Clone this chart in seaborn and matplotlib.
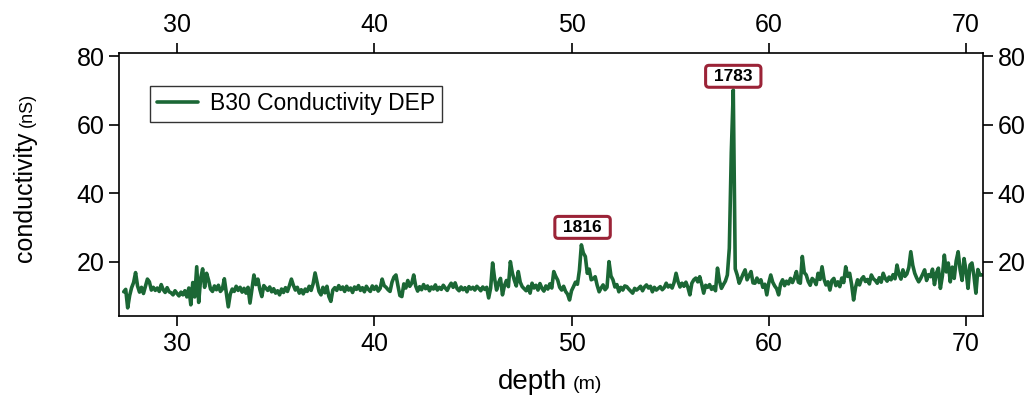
import numpy as np
import pandas as pd
import matplotlib
matplotlib.use("Agg")
import matplotlib.pyplot as plt
import seaborn as sns

# ---------------- data ----------------
depth_start = 27.3   # m
depth_step = 0.1     # m
conductivity = [
    11.3, 12.0, 6.6, 10.2, 12.5, 14.0, 16.9,
    13.0, 11.2, 12.6, 10.8, 12.9, 15.0, 14.2, 11.8, 12.6, 11.7,
    12.4, 11.4, 13.4, 11.9, 11.1, 12.5, 11.3, 11.0, 10.4, 11.6,
    10.8, 10.1, 11.2, 10.4, 11.6, 9.8, 12.4, 7.5, 14.0, 9.8,
    18.6, 8.2, 15.2, 18.0, 12.6, 16.7, 14.7, 12.1, 11.4, 13.0,
    11.9, 13.2, 11.4, 12.1, 15.1, 11.0, 6.9, 10.6, 12.1, 11.4,
    12.9, 11.7, 12.6, 11.2, 12.3, 10.9, 12.6, 8.0, 12.2, 16.2,
    13.4, 15.0, 12.0, 9.9, 13.1, 12.4, 11.7, 12.7, 11.3, 12.2,
    10.9, 11.6, 10.4, 12.1, 11.1, 12.5, 11.4, 13.1, 15.0, 13.2,
    11.8, 12.6, 10.9, 11.9, 10.7, 12.1, 11.4, 12.9, 11.7, 13.6,
    16.8, 14.1, 11.4, 10.4, 12.6, 11.0, 12.9, 9.9, 8.5, 11.8,
    12.5, 11.7, 13.1, 12.0, 12.7, 11.4, 12.9, 11.8, 12.4, 11.1,
    12.7, 12.0, 13.1, 11.7, 12.5, 11.3, 12.9, 12.0, 11.4, 13.0,
    12.0, 12.9, 11.5, 12.3, 15.0, 13.1, 12.6, 11.9, 11.4, 14.1,
    15.6, 16.2, 13.1, 10.2, 9.9, 13.6, 12.4, 14.6, 12.9, 13.8,
    16.2, 13.0, 11.5, 12.8, 11.9, 13.4, 12.2, 13.0, 11.6, 12.7,
    12.1, 13.3, 11.8, 12.6, 12.0, 13.2, 12.4, 11.7, 12.9, 13.8,
    12.6, 13.9, 12.2, 11.6, 12.7, 11.9, 12.5, 11.3, 12.8, 12.1,
    12.6, 11.8, 12.9, 12.3, 11.6, 12.7, 12.0, 12.6, 9.5, 12.4,
    19.7, 15.2, 11.8, 13.9, 15.2, 10.4, 13.1, 14.6, 12.8, 20.1,
    16.8, 14.7, 13.0, 17.2, 14.1, 12.8, 12.2, 11.6, 12.9, 10.9,
    13.8, 12.4, 13.2, 11.8, 13.7, 12.3, 11.5, 13.0, 12.1, 13.6,
    12.4, 17.2, 15.8, 14.7, 12.6, 11.8, 12.9, 11.4, 10.6, 8.9,
    11.6, 12.8, 14.1, 13.5, 17.6, 25.0, 22.6, 21.6, 16.7, 17.9,
    14.8, 15.1, 15.7, 13.2, 11.3, 12.4, 13.3, 11.9, 12.6, 20.1,
    15.9, 14.8, 12.7, 13.4, 11.3, 12.6, 11.8, 13.0, 12.8, 12.1,
    11.5, 10.9, 12.3, 11.8, 12.3, 12.9, 11.6, 12.7, 13.3, 12.4,
    12.9, 11.3, 12.6, 11.8, 12.3, 12.8, 11.9, 12.5, 13.8, 12.7,
    13.2, 12.4, 14.0, 16.7, 14.3, 12.7, 13.8, 12.9, 14.1, 12.6,
    10.4, 13.8, 14.8, 15.3, 14.2, 15.7, 13.5, 10.9, 13.2, 12.6,
    13.4, 12.0, 12.8, 11.6, 18.2, 14.5, 12.3, 13.4, 14.4, 16.2,
    24.0, 52.0, 70.2, 18.0, 16.2, 13.8, 15.1, 16.5, 17.7, 14.8,
    16.0, 17.2, 13.9, 13.8, 15.3, 14.0, 14.8, 12.6, 13.5, 10.4,
    13.9, 16.2, 14.1, 13.0, 12.2, 10.4, 13.6, 14.8, 13.1, 14.4,
    13.6, 15.2, 14.0, 15.3, 17.2, 14.1, 13.8, 21.6, 16.9, 16.2,
    14.3, 13.2, 15.2, 14.6, 13.4, 16.7, 14.9, 18.6, 15.0, 13.3,
    14.2, 11.8, 14.6, 15.2, 13.1, 14.2, 12.8, 15.3, 14.0, 18.6,
    15.8, 16.7, 13.4, 8.9, 12.6, 14.8, 13.3, 15.0, 15.7, 14.3,
    14.9, 13.6, 16.2, 15.1, 14.6, 13.8, 15.4, 14.1, 16.7, 15.2,
    14.4, 15.6, 14.8, 16.3, 15.1, 19.1, 16.4, 15.0, 17.7, 15.8,
    16.5, 18.4, 23.0, 19.0, 16.7, 15.3, 14.2, 15.2, 16.4, 17.7,
    14.6, 16.3, 15.7, 17.9, 13.4, 16.8, 18.2, 12.3, 15.9, 22.0,
    17.1, 19.7, 14.2, 18.5, 15.2, 20.3, 23.0, 17.7, 14.6, 21.0,
    17.4, 12.3, 19.1, 19.7, 16.0, 10.9, 17.8, 16.2, 16.2,
]
depth = np.round(depth_start + depth_step * np.arange(len(conductivity)), 2)

series_label = "B30 Conductivity DEP"
x_ticks = [30, 40, 50, 60, 70]
y_ticks = [20, 40, 60, 80]
x_limits = (27.06, 70.86)
y_limits = (4.23, 81.0)

# annotation labels (year labels placed above peaks)
ann_texts = ["1816", "1783"]
ann_depths = [50.56, 58.2]
ann_values = [30.1, 74.2]

line_color = "#1b6735"
box_edge = "#9b2337"

df = pd.DataFrame({"depth": depth, "conductivity": conductivity})

# ---------------- figure ----------------
sns.set_style("white")
plt.rcParams["font.family"] = ["Liberation Sans", "DejaVu Sans"]
plt.rcParams["text.color"] = "black"

W, H = 1033, 398
fig = plt.figure(figsize=(W / 100, H / 100), dpi=100)
ax = fig.add_axes([119 / W, 1 - 316 / H, (983 - 119) / W, (316 - 53) / H])

sns.lineplot(data=df, x="depth", y="conductivity", ax=ax, color=line_color,
             linewidth=2.6, label=series_label, sort=False, estimator=None)

ax.set_xlim(*x_limits)
ax.set_ylim(*y_limits)
ax.set_xticks(x_ticks)
ax.set_yticks(y_ticks)
ax.set_xlabel("")
ax.set_ylabel("")

for s in ax.spines.values():
    s.set_visible(True)
    s.set_color("black")
    s.set_linewidth(1.2)

ax.tick_params(axis="both", which="major", direction="out", length=7.5, width=1.2,
               colors="black", labelsize=18, pad=3,
               top=True, right=True, bottom=True, left=True,
               labeltop=True, labelright=True, labelbottom=True, labelleft=True)
ax.tick_params(axis="x", pad=4)

leg = ax.legend(loc="upper left", bbox_to_anchor=(0.036, 0.876), borderaxespad=0,
                frameon=True, fancybox=False, fontsize=16.5, handlelength=1.8,
                handletextpad=0.5, borderpad=0.3)
leg.get_frame().set_edgecolor("black")
leg.get_frame().set_linewidth(1.0)
for h in leg.get_lines():
    h.set_linewidth(2.6)
for t in leg.get_texts():
    t.set_color("black")

for t, xd, yv in zip(ann_texts, ann_depths, ann_values):
    ax.text(xd, yv, " " + t + " ", ha="center", va="center", fontsize=12.5,
            fontweight="bold", color="black", zorder=5,
            bbox=dict(boxstyle="round,pad=0.2,rounding_size=0.2", fc="white",
                      ec=box_edge, lw=2.2))

# axis labels with smaller unit text
fig.canvas.draw()
r = fig.canvas.get_renderer()

t1 = fig.text(498 / W, 9 / H, "depth", fontsize=20, ha="left", va="baseline",
              color="black")
bb = t1.get_window_extent(r)
fig.text((bb.x1 + 6) / W, 9 / H, "(m)", fontsize=14, ha="left", va="baseline",
         color="black")

t2 = fig.text(25 / W, 1 - 262 / H, "conductivity", fontsize=18, rotation=90,
              ha="center", va="bottom", color="black")
bb2 = t2.get_window_extent(r)
fig.text(27 / W, (bb2.y1 + 5) / H, "(nS)", fontsize=13, rotation=90,
         ha="center", va="bottom", color="black")

fig.savefig("out.png", dpi=100)
